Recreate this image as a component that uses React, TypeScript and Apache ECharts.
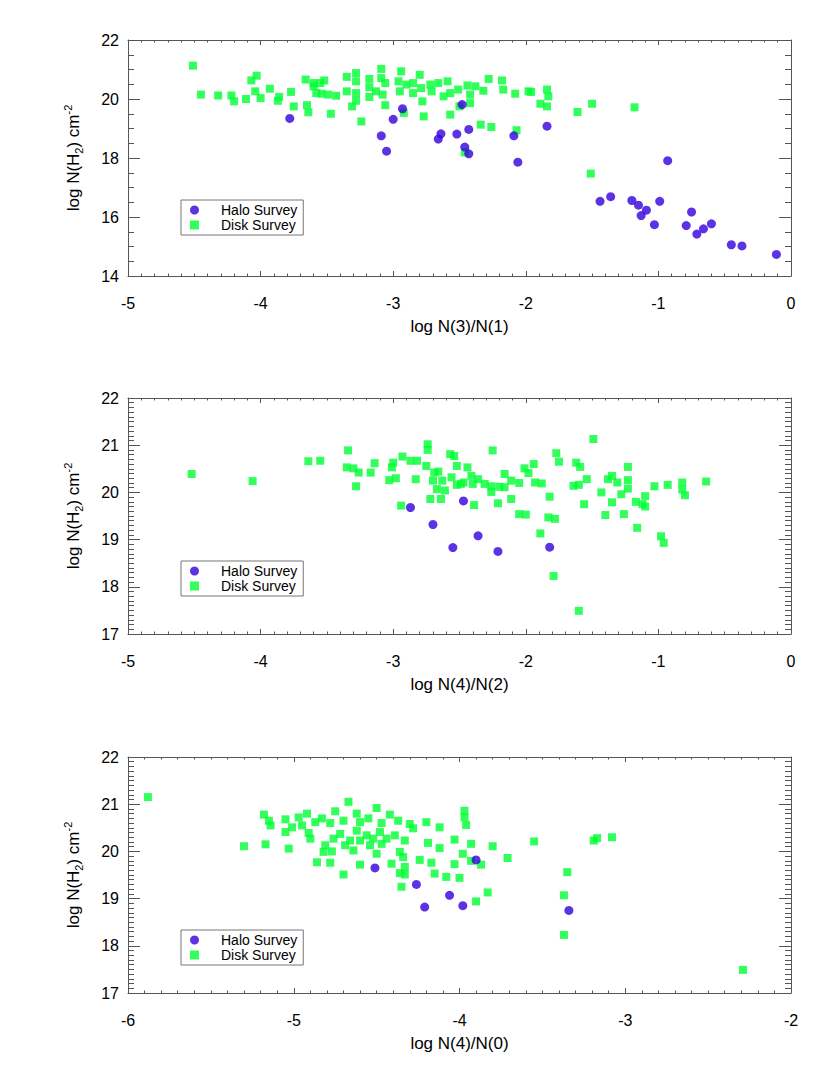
import React, { useEffect, useRef } from "react";
import * as echarts from "echarts";

// ---------- DATA ----------
const xTitles = ["log N(3)/N(1)", "log N(4)/N(2)", "log N(4)/N(0)"];
const xRanges: [number, number][] = [[-5, 0], [-5, 0], [-6, -2]];
const yRanges: [number, number][] = [[14, 22], [17, 22], [17, 22]];
const yIntervals = [2, 1, 1];
const yMinorSplits = [4, 10, 10];
const seriesNames = ["Halo Survey", "Disk Survey"];

const halo1: [number, number][] = [
  [-3.78, 19.34], [-3.09, 18.75], [-3.05, 18.23], [-3.0, 19.31], [-2.93, 19.67],
  [-2.66, 18.64], [-2.64, 18.82], [-2.52, 18.81], [-2.48, 19.81], [-2.43, 18.97],
  [-2.46, 18.37], [-2.43, 18.14], [-2.09, 18.75], [-2.06, 17.86], [-1.84, 19.08],
  [-1.44, 16.53], [-1.36, 16.69], [-1.2, 16.56], [-1.15, 16.4], [-1.09, 16.23],
  [-1.13, 16.05], [-1.03, 15.74], [-0.99, 16.53], [-0.93, 17.91], [-0.79, 15.71],
  [-0.75, 16.17], [-0.66, 15.6], [-0.71, 15.42], [-0.6, 15.77], [-0.45, 15.06],
  [-0.37, 15.02], [-0.11, 14.73],
];

const disk1: [number, number][] = [
  [-4.51, 21.13], [-4.45, 20.15], [-4.32, 20.12], [-4.22, 20.12], [-4.2, 19.92],
  [-4.11, 20.0], [-4.03, 20.79], [-4.07, 20.63], [-4.04, 20.26], [-4.0, 20.03],
  [-3.93, 20.35], [-3.86, 20.07], [-3.87, 19.94], [-3.77, 20.24], [-3.75, 19.75],
  [-3.66, 20.66], [-3.65, 19.79], [-3.64, 19.55], [-3.6, 20.43], [-3.6, 20.54],
  [-3.55, 20.54], [-3.52, 20.63], [-3.58, 20.2], [-3.54, 20.18], [-3.49, 20.15],
  [-3.43, 20.11], [-3.47, 19.5], [-3.35, 20.75], [-3.28, 20.88], [-3.28, 20.6],
  [-3.35, 20.26], [-3.28, 20.2], [-3.28, 19.94], [-3.31, 19.75], [-3.24, 19.24],
  [-3.18, 20.68], [-3.18, 20.4], [-3.18, 20.07], [-3.09, 21.02], [-3.09, 20.71],
  [-3.06, 20.54], [-3.13, 20.26], [-3.08, 20.15], [-3.06, 19.79], [-2.94, 20.94],
  [-2.96, 20.6], [-2.95, 20.26], [-2.92, 19.53], [-2.9, 20.49], [-2.85, 20.54],
  [-2.85, 20.2], [-2.8, 20.82], [-2.79, 20.37], [-2.78, 19.92], [-2.77, 19.41],
  [-2.72, 20.49], [-2.71, 20.26], [-2.66, 20.54], [-2.62, 20.09], [-2.59, 20.6],
  [-2.57, 20.2], [-2.57, 19.47], [-2.51, 20.32], [-2.5, 19.75], [-2.44, 20.46],
  [-2.42, 20.15], [-2.42, 19.86], [-2.38, 20.43], [-2.32, 20.28], [-2.28, 20.68],
  [-2.18, 20.63], [-2.17, 20.32], [-2.08, 20.18], [-1.98, 20.26], [-1.96, 20.24],
  [-1.89, 19.84], [-1.84, 20.32], [-1.83, 20.09], [-1.84, 19.75], [-2.34, 19.13],
  [-2.26, 19.05], [-2.07, 18.94], [-2.46, 18.19], [-1.61, 19.56], [-1.5, 19.84],
  [-1.18, 19.72], [-1.51, 17.47],
];

const halo2: [number, number][] = [
  [-2.87, 19.68], [-2.7, 19.32], [-2.55, 18.83], [-2.47, 19.82], [-2.36, 19.08],
  [-2.21, 18.75], [-1.82, 18.84],
];

const disk2: [number, number][] = [
  [-4.52, 20.39], [-4.06, 20.24], [-3.64, 20.66], [-3.55, 20.67], [-3.34, 20.89],
  [-3.35, 20.53], [-3.3, 20.51], [-3.26, 20.42], [-3.28, 20.13], [-3.17, 20.42],
  [-3.14, 20.62], [-3.03, 20.26], [-3.01, 20.53], [-3.0, 20.63], [-2.98, 20.3],
  [-2.94, 19.72], [-2.93, 20.76], [-2.87, 20.67], [-2.83, 20.28], [-2.82, 20.67],
  [-2.75, 20.56], [-2.74, 21.02], [-2.74, 20.9], [-2.72, 19.86], [-2.69, 20.42],
  [-2.66, 20.44], [-2.7, 20.25], [-2.67, 20.07], [-2.64, 19.86], [-2.63, 20.25],
  [-2.61, 20.04], [-2.57, 20.81], [-2.54, 20.77], [-2.56, 20.32], [-2.52, 20.56],
  [-2.52, 20.16], [-2.44, 20.53], [-2.49, 20.18], [-2.47, 20.21], [-2.41, 20.35],
  [-2.4, 20.18], [-2.36, 20.28], [-2.39, 19.73], [-2.31, 20.18], [-2.25, 20.89],
  [-2.26, 20.13], [-2.26, 20.01], [-2.2, 20.12], [-2.16, 20.11], [-2.16, 20.39],
  [-2.11, 20.25], [-2.21, 19.77], [-2.11, 19.86], [-2.05, 20.2], [-2.01, 20.51],
  [-1.98, 20.41], [-1.94, 20.6], [-2.05, 19.54], [-2.0, 19.53], [-1.93, 20.21],
  [-1.88, 20.19], [-1.77, 20.83], [-1.75, 20.65], [-1.82, 19.91], [-1.83, 19.47],
  [-1.78, 19.44], [-1.89, 19.13], [-1.79, 18.23], [-1.62, 20.63], [-1.59, 20.54],
  [-1.64, 20.14], [-1.6, 20.16], [-1.54, 20.28], [-1.56, 19.75], [-1.49, 21.13],
  [-1.6, 17.49], [-1.43, 20.0], [-1.4, 19.52], [-1.35, 19.79], [-1.38, 20.28],
  [-1.35, 20.35], [-1.31, 20.21], [-1.28, 19.96], [-1.23, 20.54], [-1.23, 20.26],
  [-1.23, 20.08], [-1.26, 19.54], [-1.17, 19.8], [-1.1, 19.92], [-1.12, 19.75],
  [-1.1, 19.7], [-1.16, 19.25], [-1.03, 20.13], [-0.93, 20.16], [-0.98, 19.07],
  [-0.96, 18.93], [-0.82, 20.21], [-0.82, 20.06], [-0.8, 19.94], [-0.64, 20.23],
];

const halo3: [number, number][] = [
  [-4.51, 19.65], [-4.26, 19.3], [-4.21, 18.82], [-4.06, 19.07], [-3.9, 19.82],
  [-3.98, 18.85], [-3.34, 18.75],
];

const disk3: [number, number][] = [
  [-5.88, 21.15], [-5.3, 20.11], [-5.17, 20.15], [-5.03, 20.06], [-5.05, 20.41],
  [-5.01, 20.51], [-5.14, 20.55], [-4.95, 20.55], [-4.91, 20.39], [-4.9, 20.27],
  [-4.86, 19.77], [-4.82, 19.99], [-4.81, 20.13], [-4.78, 19.76], [-4.77, 20.0],
  [-4.76, 20.27], [-4.72, 20.37], [-4.7, 19.51], [-4.69, 20.13], [-4.66, 20.23],
  [-4.64, 20.02], [-4.62, 20.44], [-4.6, 19.72], [-4.6, 20.23], [-4.56, 20.34],
  [-4.54, 20.13], [-4.52, 20.27], [-4.5, 19.95], [-4.48, 20.41], [-4.47, 20.16],
  [-4.44, 20.27], [-4.41, 19.74], [-4.39, 20.34], [-4.36, 19.99], [-4.36, 19.54],
  [-4.35, 19.25], [-4.34, 19.88], [-4.33, 20.23], [-4.33, 19.67], [-4.33, 19.51],
  [-4.28, 20.49], [-4.24, 19.82], [-4.19, 20.18], [-4.17, 19.76], [-4.15, 19.53],
  [-4.12, 20.07], [-4.12, 20.51], [-4.08, 19.46], [-4.03, 20.25], [-3.96, 20.56],
  [-3.93, 20.16], [-3.98, 19.95], [-4.03, 19.73], [-4.0, 19.44], [-3.8, 20.11],
  [-3.87, 19.72], [-3.93, 19.8], [-3.9, 18.94], [-3.83, 19.13], [-3.71, 19.86],
  [-3.55, 20.21], [-3.35, 19.56], [-3.37, 19.07], [-3.37, 18.23], [-3.19, 20.23],
  [-3.17, 20.28], [-3.08, 20.3], [-2.29, 17.49],
  [-5.18, 20.78], [-5.15, 20.65], [-5.05, 20.68], [-4.97, 20.72], [-4.92, 20.8],
  [-4.87, 20.62], [-4.83, 20.7], [-4.78, 20.6], [-4.75, 20.85], [-4.7, 20.65],
  [-4.67, 21.05], [-4.62, 20.8], [-4.6, 20.62], [-4.55, 20.7], [-4.5, 20.92],
  [-4.47, 20.6], [-4.42, 20.78], [-4.37, 20.65], [-4.3, 20.58], [-4.2, 20.62],
  [-3.97, 20.86], [-3.97, 20.72],
];

const haloData = [halo1, halo2, halo3];
const diskData = [disk1, disk2, disk3];

// ---------- LAYOUT / STYLE ----------
const FONT = "'Liberation Sans', Arial, Helvetica, sans-serif";
const GRID_LEFT = 128;
const GRID_W = 663;
const GRID_H = 236;
const GRID_TOPS = [40, 398, 757];
const LEGEND_TOPS = [200, 561, 930];
const AXIS_COLOR = "#555";
const HALO_COLOR = "#3300dd";
const DISK_COLOR = "#00ff33";

function buildOption() {
  const grid = GRID_TOPS.map((t) => ({ left: GRID_LEFT, width: GRID_W, top: t, height: GRID_H }));
  const xAxis: any[] = [];
  const yAxis: any[] = [];
  const series: any[] = [];
  const legend: any[] = [];

  for (let i = 0; i < 3; i++) {
    const [xmin, xmax] = xRanges[i];
    const [ymin, ymax] = yRanges[i];
    const baseX = {
      gridIndex: i,
      type: "value",
      min: xmin,
      max: xmax,
      interval: 1,
      splitLine: { show: false },
      axisLine: { show: true, onZero: false, lineStyle: { color: AXIS_COLOR, width: 1 } },
      axisTick: { show: true, inside: true, length: 5, lineStyle: { color: AXIS_COLOR } },
      minorTick: { show: true, splitNumber: 10, length: 2.5, lineStyle: { color: AXIS_COLOR } },
    };
    xAxis.push({
      ...baseX,
      position: "bottom",
      axisLabel: { show: true, color: "#000", fontSize: 16, fontFamily: FONT, margin: 19 },
      name: xTitles[i],
      nameLocation: "middle",
      nameGap: 42,
      nameTextStyle: { color: "#000", fontSize: 17, fontFamily: FONT },
    });
    xAxis.push({ ...baseX, position: "top", axisLabel: { show: false } });

    const baseY = {
      gridIndex: i,
      type: "value",
      min: ymin,
      max: ymax,
      interval: yIntervals[i],
      splitLine: { show: false },
      axisLine: { show: true, onZero: false, lineStyle: { color: AXIS_COLOR, width: 1 } },
      axisTick: { show: true, inside: true, length: 12, lineStyle: { color: AXIS_COLOR } },
      minorTick: { show: true, splitNumber: yMinorSplits[i], length: 6, lineStyle: { color: AXIS_COLOR } },
    };
    yAxis.push({
      ...baseY,
      position: "left",
      axisLabel: { show: true, color: "#000", fontSize: 16, fontFamily: FONT, margin: 9 },
      name: "{n|log N(H}{sub|2}{n|) cm}{sup|-2}",
      nameLocation: "middle",
      nameGap: 44,
      nameTextStyle: {
        color: "#000",
        fontFamily: FONT,
        fontSize: 17,
        rich: {
          n: { fontSize: 17, fontFamily: FONT, color: "#000", lineHeight: 22 },
          sub: { fontSize: 11, fontFamily: FONT, color: "#000", lineHeight: 12, verticalAlign: "bottom" },
          sup: { fontSize: 11, fontFamily: FONT, color: "#000", lineHeight: 12, verticalAlign: "top" },
        },
      },
    });
    yAxis.push({ ...baseY, position: "right", axisLabel: { show: false } });

    series.push({
      name: seriesNames[1],
      type: "scatter",
      xAxisIndex: i * 2,
      yAxisIndex: i * 2,
      symbol: "rect",
      symbolSize: 8,
      itemStyle: { color: DISK_COLOR },
      data: diskData[i],
      z: 2,
    });
    series.push({
      name: seriesNames[0],
      type: "scatter",
      xAxisIndex: i * 2,
      yAxisIndex: i * 2,
      symbol: "circle",
      symbolSize: 9,
      itemStyle: { color: HALO_COLOR },
      data: haloData[i],
      z: 3,
    });

    legend.push({
      orient: "vertical",
      left: 181,
      top: LEGEND_TOPS[i],
      itemWidth: 9,
      itemHeight: 9,
      itemGap: 1,
      padding: [3, 6, 3, 9],
      borderColor: "#777",
      borderWidth: 1,
      selectedMode: false,
      textStyle: { color: "#000", fontSize: 14, fontFamily: FONT, lineHeight: 12, padding: [0, 0, 0, 17] },
      data: [
        { name: seriesNames[0], icon: "circle" },
        { name: seriesNames[1], icon: "rect" },
      ],
    });
  }

  return {
    animation: false,
    backgroundColor: "#fff",
    grid,
    xAxis,
    yAxis,
    series,
    legend,
  };
}

export default function App() {
  const ref = useRef<HTMLDivElement>(null);
  useEffect(() => {
    if (!ref.current) return;
    const chart = echarts.init(ref.current, null, { renderer: "svg" });
    chart.setOption(buildOption() as any);
    return () => chart.dispose();
  }, []);
  return (
    <div
      ref={ref}
      style={{ position: "fixed", left: 0, top: 0, width: 830, height: 1075, background: "#fff" }}
    />
  );
}
